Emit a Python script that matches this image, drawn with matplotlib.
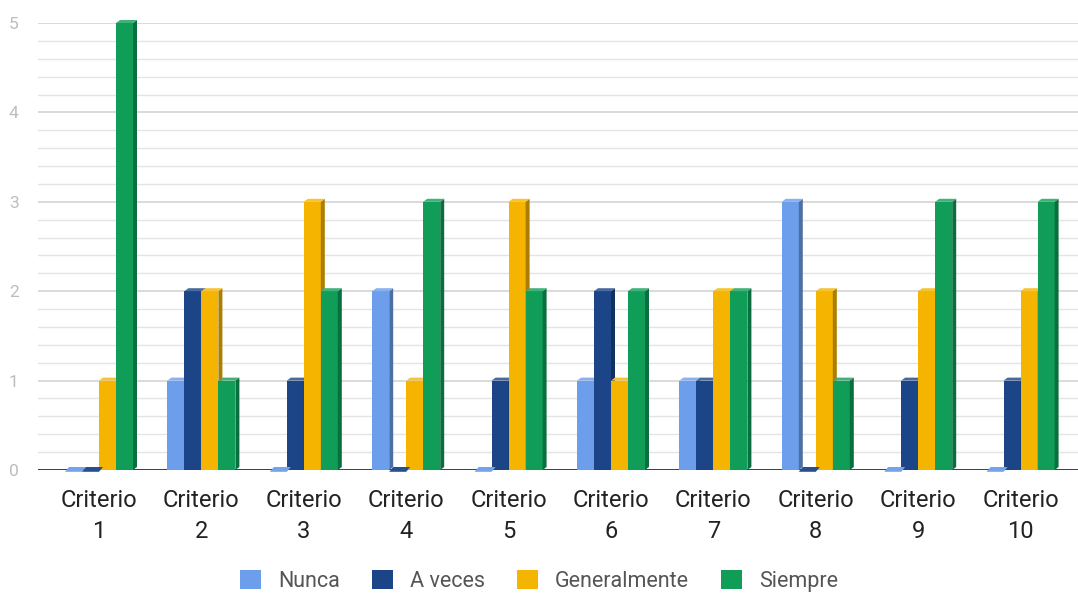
import matplotlib
matplotlib.use("Agg")
import matplotlib.pyplot as plt
from matplotlib.patches import Polygon, Patch
import matplotlib.colors as mcolors
import numpy as np

categories = ["Criterio\n1", "Criterio\n2", "Criterio\n3", "Criterio\n4", "Criterio\n5",
              "Criterio\n6", "Criterio\n7", "Criterio\n8", "Criterio\n9", "Criterio\n10"]
series_names = ["Nunca", "A veces", "Generalmente", "Siempre"]
nunca = [0, 1, 0, 2, 0, 1, 1, 3, 0, 0]
a_veces = [0, 2, 1, 0, 1, 2, 1, 0, 1, 1]
generalmente = [1, 2, 3, 1, 3, 1, 2, 2, 2, 2]
siempre = [5, 1, 2, 3, 2, 2, 2, 1, 3, 3]
series = [nunca, a_veces, generalmente, siempre]
colors = ["#6d9eeb", "#1c4587", "#f4b400", "#0f9d58"]
yticks = [0, 1, 2, 3, 4, 5]

plt.rcParams['font.family'] = ['Roboto', 'DejaVu Sans']

W, H = 1078, 593
fig = plt.figure(figsize=(W / 100, H / 100), dpi=100)
ax_left, ax_right = 38, 1078
y0px, y5px = 470, 23
ax = fig.add_axes([ax_left / W, (H - y0px) / H, (ax_right - ax_left) / W, (y0px - y5px) / H])

step_px = 102.4
c0_px = 99
ax.set_xlim((ax_left - c0_px) / step_px, (ax_right - c0_px) / step_px)
ax.set_ylim(0, 5)

ax.set_yticks(yticks)
ax.set_yticks(np.arange(0, 5.01, 0.2), minor=True)
ax.grid(True, which='major', axis='y', color='#d4d4d4', lw=1.2, zorder=0)
ax.grid(True, which='minor', axis='y', color='#e4e4e4', lw=1.0, zorder=0)
ax.set_axisbelow(True)
for s in ax.spines.values():
    s.set_visible(False)
ax.tick_params(axis='y', which='both', length=0, labelsize=12.5, labelcolor='#bdbdbd', pad=14)
ax.tick_params(axis='x', length=0, labelsize=17, labelcolor='#222222', pad=14)
ax.set_xticks(range(len(categories)))
ax.set_xticklabels(categories, linespacing=1.42)

bw = 17 / step_px
dx = 4 / step_px
dy = 3 / 89.4

def shade(c, f):
    r, g, b = mcolors.to_rgb(c)
    return (r * f, g * f, b * f)

def lighten(c, f):
    r, g, b = mcolors.to_rgb(c)
    return (r + (1 - r) * f, g + (1 - g) * f, b + (1 - b) * f)

for si, vals in enumerate(series):
    col = colors[si]
    for ci, v in enumerate(vals):
        x = ci + (si - 2) * bw
        if v > 0:
            front = Polygon([[x, 0], [x + bw, 0], [x + bw, v], [x, v]], closed=True,
                            fc=col, ec='none', zorder=3, clip_on=False)
            side = Polygon([[x + bw, 0], [x + bw + dx, dy], [x + bw + dx, v + dy], [x + bw, v]],
                           closed=True, fc=shade(col, 0.7), ec='none', zorder=3, clip_on=False)
            top = Polygon([[x, v], [x + bw, v], [x + bw + dx, v + dy], [x + dx, v + dy]],
                          closed=True, fc=lighten(col, 0.2), ec='none', zorder=3, clip_on=False)
            ax.add_patch(front); ax.add_patch(side); ax.add_patch(top)
        else:
            top = Polygon([[x, -0.6 * dy], [x + bw, -0.6 * dy], [x + bw + dx, dy], [x + dx, dy]],
                          closed=True, fc=lighten(col, 0.05), ec='none', zorder=4, clip_on=False)
            ax.add_patch(top)

ax.axhline(0, color='#333333', lw=1.3, zorder=2)

handles = [Patch(fc=c, ec='none') for c in colors]
fig.legend(handles, series_names, loc='center', bbox_to_anchor=(0.5, 12 / H), ncol=4,
           frameon=False, fontsize=15.5, handlelength=0.95, handleheight=0.95,
           columnspacing=1.5, handletextpad=0.8, labelcolor='#555555',
           borderaxespad=0, borderpad=0)

fig.savefig("out.png", dpi=100)
